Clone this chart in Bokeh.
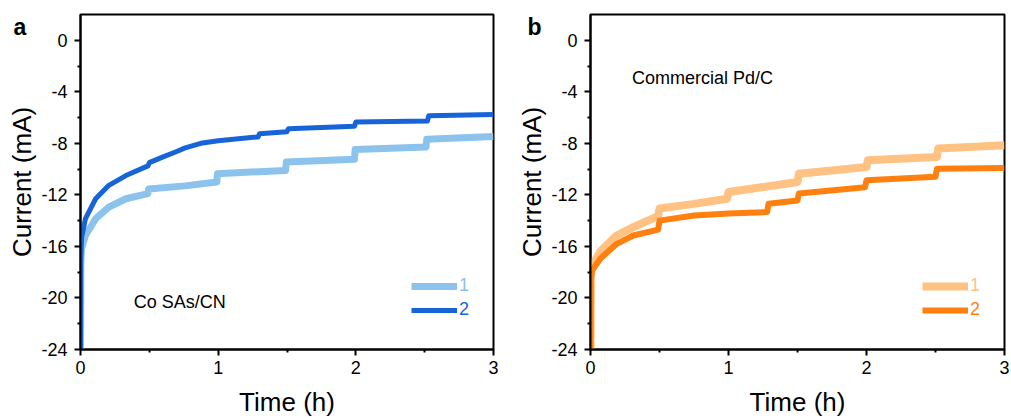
from bokeh.plotting import figure
from bokeh.layouts import row
from bokeh.models import Range1d, FixedTicker, Label, Legend, LegendItem
from bokeh.embed import file_html
from bokeh.resources import INLINE

# ---------------- data ----------------
# Panel a : Co SAs/CN
a1_t = [0, 0.002, 0.007, 0.036, 0.11, 0.206, 0.33, 0.49, 0.495, 0.76, 0.99, 0.995,
        1.49, 1.495, 1.99, 1.995, 2.51, 2.515, 3.0]
a1_i = [-24, -17.5, -16.2, -15.15, -13.85, -12.95, -12.3, -11.9, -11.55, -11.3, -11.0, -10.36,
        -10.1, -9.45, -9.24, -8.47, -8.28, -7.69, -7.46]
a2_t = [0, 0.002, 0.008, 0.036, 0.11, 0.206, 0.33, 0.49, 0.50, 0.6, 0.69, 0.76, 0.874, 1.0, 1.29, 1.30,
        1.50, 1.51, 1.99, 2.0, 2.52, 2.53, 3.0]
a2_i = [-24, -17.0, -15.3, -13.85, -12.3, -11.26, -10.5, -9.75, -9.5, -9.05, -8.67, -8.35, -8.0, -7.8,
        -7.5, -7.25, -7.1, -6.86, -6.68, -6.34, -6.27, -5.85, -5.77]

# Panel b : Commercial Pd/C
b1_t = [0, 0.002, 0.01, 0.07, 0.19, 0.31, 0.49, 0.50, 0.75, 0.99, 1.0, 1.5, 1.51, 2.0, 2.01,
        2.51, 2.52, 3.0]
b1_i = [-24, -18.5, -17.6, -16.4, -15.15, -14.5, -13.65, -13.05, -12.7, -12.3, -11.78, -11.0, -10.36,
        -9.84, -9.32, -9.06, -8.4, -8.15]
b2_t = [0, 0.002, 0.01, 0.07, 0.19, 0.31, 0.49, 0.50, 0.75, 1.0, 1.28, 1.29, 1.5, 1.51, 1.99, 2.0,
        2.5, 2.51, 3.0]
b2_i = [-24, -18.6, -17.9, -16.96, -15.8, -15.15, -14.7, -14.0, -13.6, -13.45, -13.33, -12.69, -12.43,
        -11.9, -11.4, -10.87, -10.6, -9.97, -9.92]

y_ticks = [-24, -20, -16, -12, -8, -4, 0]
y_minor = [-22, -18, -14, -10, -6, -2]
x_ticks = [0, 1, 2, 3]
x_minor = [0.5, 1.5, 2.5]

FONT = "Liberation Sans"


def make_panel(width, left, right, letter, letter_offset, note, note_pos,
               t1, i1, t2, i2, c1, c2, w1, w2, leg_x):
    p = figure(width=width, height=419, output_backend="svg", toolbar_location=None,
               x_range=Range1d(0, 3), y_range=Range1d(-24, 2),
               min_border_left=left, min_border_right=right,
               min_border_top=14, min_border_bottom=70,
               title=letter, title_location="above")
    p.title.align = "left"
    p.title.offset = letter_offset
    p.title.standoff = -50
    p.title.text_font = FONT
    p.title.text_font_size = "23px"
    p.title.text_font_style = "bold"
    p.title.text_color = "black"

    p.grid.visible = False
    p.outline_line_color = "black"
    p.outline_line_width = 2
    p.background_fill_color = "white"
    p.border_fill_color = "white"

    for ax in (p.xaxis[0], p.yaxis[0]):
        ax.axis_line_width = 2
        ax.axis_line_color = "black"
        ax.major_tick_line_width = 2
        ax.minor_tick_line_width = 2
        ax.major_tick_in = 0
        ax.major_tick_out = 6
        ax.minor_tick_in = 0
        ax.minor_tick_out = 3
        ax.major_label_text_font = FONT
        ax.major_label_text_font_size = "18px"
        ax.major_label_text_color = "black"
        ax.axis_label_text_font = FONT
        ax.axis_label_text_font_size = "26px"
        ax.axis_label_text_font_style = "normal"
        ax.axis_label_text_color = "black"

    p.xaxis.ticker = FixedTicker(ticks=x_ticks, minor_ticks=x_minor)
    p.yaxis.ticker = FixedTicker(ticks=y_ticks, minor_ticks=y_minor)
    p.yaxis.major_label_overrides = {v: str(v) for v in y_ticks}
    p.xaxis.axis_label = "Time (h)"
    p.yaxis.axis_label = "Current (mA)"
    p.xaxis.major_label_standoff = 5
    p.yaxis.major_label_standoff = 7
    p.xaxis.axis_label_standoff = 10
    p.yaxis.axis_label_standoff = 1

    r1 = p.line(t1, i1, line_color=c1, line_width=w1, line_join="round")
    r2 = p.line(t2, i2, line_color=c2, line_width=w2, line_join="round")

    for r, lab, col, ypos in ((r1, "1", c1, 53), (r2, "2", c2, 29)):
        lg = Legend(items=[LegendItem(label=lab, renderers=[r])],
                    location=(leg_x, ypos), glyph_width=46, glyph_height=20,
                    label_standoff=2, padding=0, margin=0, spacing=0,
                    border_line_color=None, background_fill_alpha=0,
                    label_text_font=FONT, label_text_font_size="18px",
                    label_text_color=col, label_height=20)
        p.add_layout(lg, "center")

    p.add_layout(Label(x=note_pos[0], y=note_pos[1], text=note,
                       text_font=FONT, text_font_size="18px",
                       text_color="black", text_baseline="alphabetic"))
    return p


pa = make_panel(510, 80, 17, "a", -67, "Co SAs/CN", (0.386, -20.35),
                a1_t, a1_i, a2_t, a2_i, "#8CC3EC", "#1764D9", 7, 5, 331)
pb = make_panel(501, 80, 7, "b", -63, "Commercial Pd/C", (0.30, -2.95),
                b1_t, b1_i, b2_t, b2_i, "#FFC283", "#FF7F0F", 8, 6, 332)

layout = row(pa, pb)
open("out.html", "w").write(file_html(layout, INLINE))
